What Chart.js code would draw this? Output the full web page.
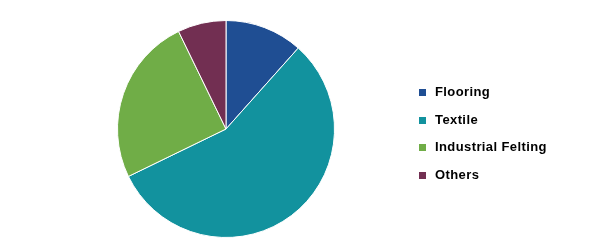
<!DOCTYPE html>
<html>
<head>
<meta charset="utf-8">
<script src="https://cdn.jsdelivr.net/npm/chart.js@4/dist/chart.umd.min.js"></script>
<style>
  html, body { margin: 0; padding: 0; background: #fff; }
  #wrap { position: relative; width: 610px; height: 248px; }
  #legend { position: absolute; left: 419px; top: 83px; margin: 0; padding: 0; list-style: none;
    font-family: "Liberation Sans", Arial, sans-serif; font-weight: bold; font-size: 13px;
    letter-spacing: 0.4px; color: #000; }
  #legend li { height: 27.7px; line-height: 18px; display: flex; align-items: flex-start; }
  #legend span.box { display: inline-block; width: 7px; height: 7px; margin: 6px 9px 0 0; }
</style>
</head>
<body>
<div id="wrap">
  <canvas id="pie" width="610" height="248"></canvas>
  <ul id="legend"></ul>
</div>
<script>
// Segment shares (%)
const labels = ["Flooring", "Textile", "Industrial Felting", "Others"];
const shares = [11.6, 56.2, 25.0, 7.2];
const colors = ["#1F4E93", "#12929E", "#70AD47", "#722F52"];

const ctx = document.getElementById("pie").getContext("2d");
new Chart(ctx, {
    type: "pie",
    data: {
        labels: labels,
        datasets: [{
            data: shares,
            backgroundColor: colors,
            borderColor: "#ffffff",
            borderWidth: 1
        }]
    },
    options: {
        responsive: false,
        animation: false,
        layout: { padding: { left: 117, right: 275, top: 20, bottom: 10 } },
        plugins: {
            legend: { display: false },
            tooltip: { enabled: false }
        }
    }
});

// Legend
const legend = document.getElementById("legend");
labels.forEach((label, i) => {
    const item = document.createElement("li");
    const box = document.createElement("span");
    box.className = "box";
    box.style.background = colors[i];
    item.appendChild(box);
    item.appendChild(document.createTextNode(label));
    legend.appendChild(item);
});
</script>
</body>
</html>
